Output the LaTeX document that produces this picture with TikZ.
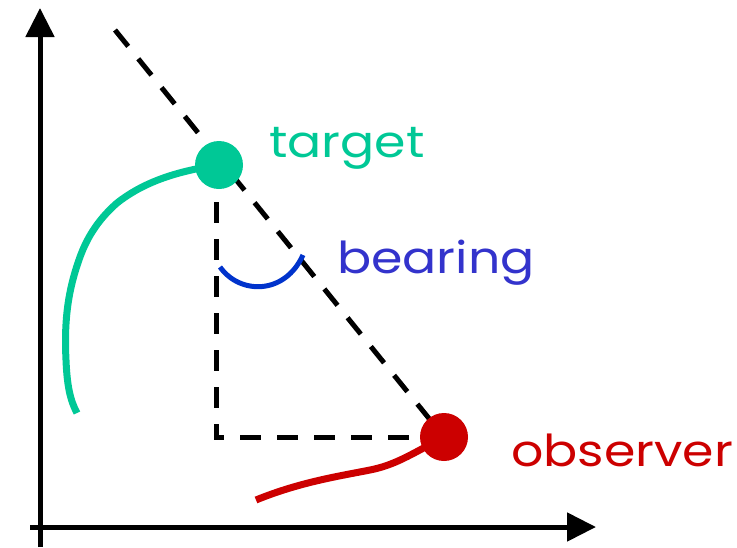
\documentclass[tikz,border=0pt]{standalone}
\usepackage{fontspec}
\setmainfont{Poppins}[FakeStretch=1.15]
\usetikzlibrary{arrows.meta}
\definecolor{tgreen}{HTML}{00C896}
\definecolor{bblue}{HTML}{3333CC}
\definecolor{arcblue}{HTML}{0033CC}
\definecolor{ored}{HTML}{CC0000}
\tikzset{
  axis/.style={line width=5pt,-{Triangle[length=29pt,width=28pt]}},
  dashline/.style={line width=5pt,dash pattern=on 21pt off 16pt},
  dot/.style={circle,minimum size=48pt,inner sep=0pt},
  track/.style={line width=7pt},
  lbl/.style={inner sep=0pt,anchor=base west,font=\fontsize{44}{50}\selectfont}
}
\begin{document}
\begin{tikzpicture}[x=1pt,y=-1pt]
\useasboundingbox (0,0) rectangle (737,547);
\coordinate (ytop) at (40,8);
\coordinate (ybot) at (40,547);
\coordinate (xl) at (30,527);
\coordinate (xr) at (596,527);
\draw[axis] (ybot) -- (ytop);
\draw[axis] (xl) -- (xr);
\coordinate (far) at (115,30);
\coordinate (tg) at (219,165);
\coordinate (ob) at (444,437);
\coordinate (corner) at (216,437);
\draw[dashline] (far) -- (ob);
\draw[dashline] (216,165) -- (corner) -- (ob);
% target track
\draw[track,tgreen,line cap=butt]
  (tg) .. controls (170,172) and (140,185) .. (117,203)
  .. controls (100,218) and (88,235) .. (80,257)
  .. controls (68,290) and (64,320) .. (66,360)
  .. controls (67,385) and (70,400) .. (77,413);
% observer track
\draw[track,ored]
  (256,500) .. controls (300,482) and (340,476) .. (370,470)
  .. controls (395,465) and (410,455) .. (ob);
\node[dot,fill=tgreen] (target) at (tg) {};
\node[dot,fill=ored] (observer) at (ob) {};
% bearing arc
\draw[arcblue,line width=5pt] (220,267) .. controls (240,295) and (285,295) .. (303,255);
\node[lbl,text=tgreen] (tlab) at (269,157) {target};
\node[lbl,text=bblue] (blab) at (337,273) {bearing};
\node[lbl,text=ored] (olab) at (511,466) {observer};
\end{tikzpicture}
\end{document}
